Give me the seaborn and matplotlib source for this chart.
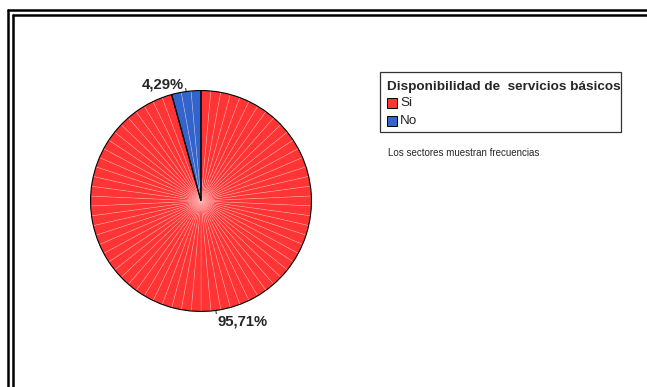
import numpy as np
import matplotlib
matplotlib.use("Agg")
import matplotlib.pyplot as plt
from matplotlib.lines import Line2D
from matplotlib.patches import Rectangle
import seaborn as sns

# Frequencies per category
categories = ["Si", "No"]
counts = [67, 3]
pct_labels = ["95,71%", "4,29%"]
legend_title = "Disponibilidad de  servicios básicos"
footnote = "Los sectores muestran frecuencias"

sns.set_style("white")
plt.rcParams["font.family"] = ["Liberation Sans", "DejaVu Sans"]

palette = ["#ff3434", "#3364cc"]

W, H = 647, 387
fig = plt.figure(figsize=(W / 100, H / 100), dpi=100)
fig.patch.set_facecolor("white")


def fx(px):
    return px / W


def fy(py):
    return 1 - py / H


# double frame along the top and left edges
for x0, y0 in [(8, 9.5), (13, 15)]:
    fig.add_artist(Line2D([fx(x0), fx(W + 5)], [fy(y0), fy(y0)], color="black", lw=1.8))
    fig.add_artist(Line2D([fx(x0), fx(x0)], [fy(y0), fy(H + 5)], color="black", lw=1.8))

# pie axes
cx, cy, r = 201, 201, 111
ax = fig.add_axes([fx(cx - r), fy(cy + r), 2 * r / W, 2 * r / H])

# one thin wedge per case
case_colors = []
for col, n in zip(palette, counts):
    case_colors += [col] * n
ax.pie(np.ones(sum(counts)), colors=case_colors, startangle=90, counterclock=False,
       radius=1, wedgeprops=dict(edgecolor=(1, 0.9, 0.9, 0.3), linewidth=0.5))
# category outlines
ax.pie(counts, colors=["none", "none"], startangle=90, counterclock=False,
       radius=1, wedgeprops=dict(edgecolor="black", linewidth=0.8, fill=False))
ax.set_xlim(-1.005, 1.005)
ax.set_ylim(-1.005, 1.005)
ax.axis("off")

# percentage labels with short leader lines
total = sum(counts)
start = 90.0
for n, lab in zip(counts, pct_labels):
    span = 360.0 * n / total
    mid = np.deg2rad(start - span / 2)
    start -= span
    ex, ey = np.cos(mid), np.sin(mid)
    ax.plot([ex, ex * 1.03], [ey, ey * 1.03], color="black", lw=0.6, clip_on=False)
    if ey > 0:
        ax.text(ex * 1.03 - 0.02, ey * 1.03 - 0.005, lab, ha="right", va="baseline",
                fontsize=10.7, fontweight="bold", clip_on=False)
    else:
        ax.text(ex * 1.03 + 0.012, ey * 1.03 - 0.005, lab, ha="left", va="top",
                fontsize=10.7, fontweight="bold", clip_on=False)

# legend box
fig.add_artist(Rectangle((fx(380), fy(132)), fx(621) - fx(380), fy(72) - fy(132),
                         transform=fig.transFigure, facecolor="white", edgecolor="#333333", lw=0.9))
fig.text(fx(387), fy(87), legend_title, fontsize=9.7, fontweight="bold", va="center", ha="left")
for i, (cat, col) in enumerate(zip(categories, palette)):
    yc = 103 + i * 17.5
    fig.add_artist(Rectangle((fx(387), fy(yc + 5)), fx(10), fy(0) - fy(10),
                             transform=fig.transFigure, facecolor=col, edgecolor="black", lw=0.7))
    fig.text(fx(400), fy(yc), cat, fontsize=9.7, va="center", ha="left")

fig.text(fx(388), fy(153), footnote, fontsize=7, va="center", ha="left")

fig.savefig("out.png", dpi=100, facecolor="white")
